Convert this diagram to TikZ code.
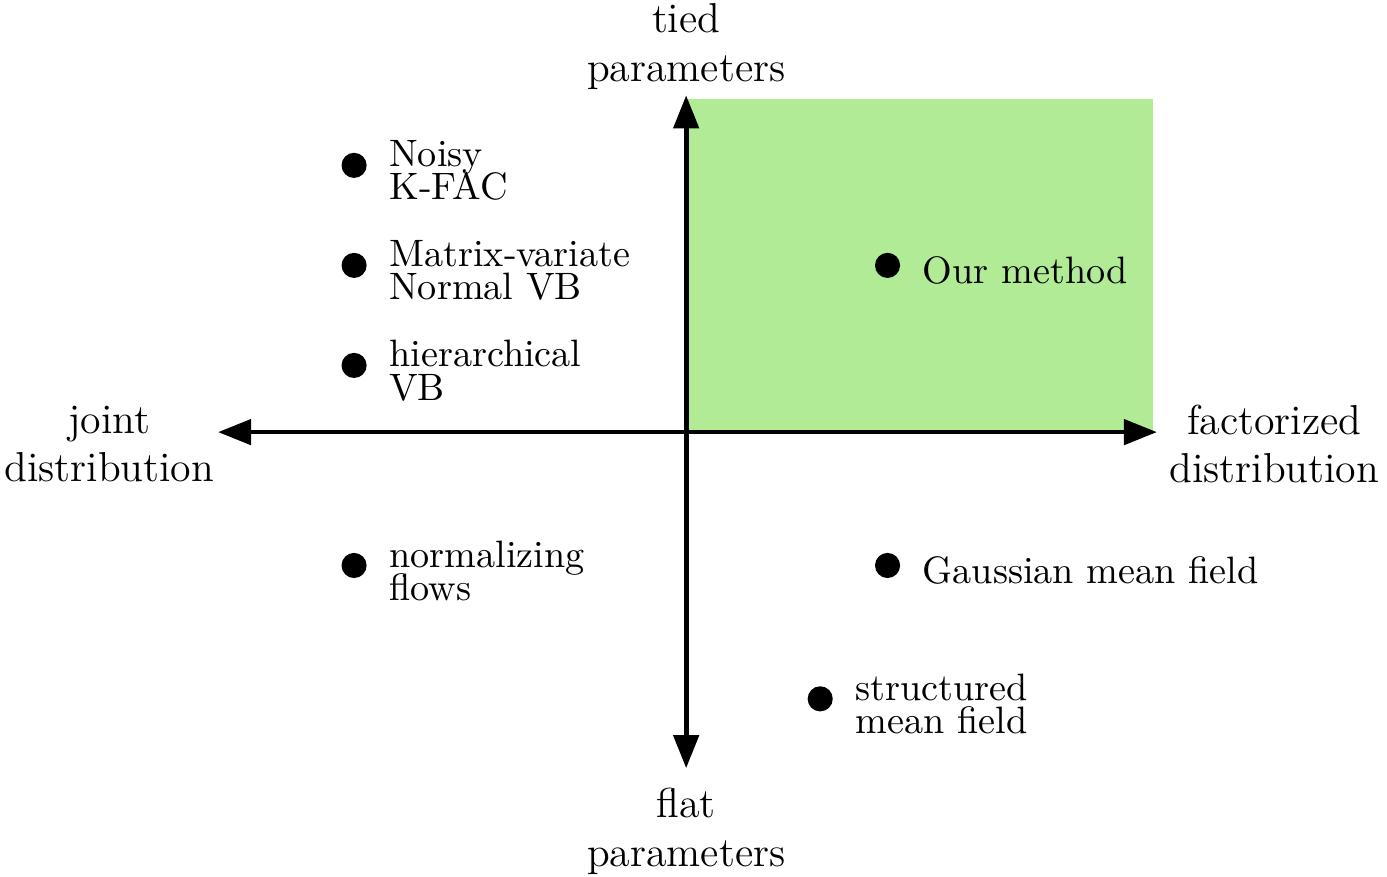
\documentclass[tikz,border=0pt]{standalone}
\usetikzlibrary{positioning,arrows.meta}
\definecolor{figgreen}{RGB}{178,235,150}
\tikzset{
  axis/.style={{Triangle[length=9.5pt,width=7.2pt]}-{Triangle[length=9.5pt,width=7.2pt]},
               line width=1.35pt},
  dot/.style={circle,fill,inner sep=0pt,minimum size=7.2pt},
  lbl/.style={align=left,inner sep=0pt,font=\fontsize{10.95}{13.6}\selectfont},
  axlbl/.style={align=center,inner sep=0pt,font=\large},
}

\begin{document}
\begin{tikzpicture}[x=0.672cm,y=0.672cm]
\useasboundingbox (-10.29,-6.67) rectangle (10.51,6.48);

% target region
\fill[figgreen] (0,0) rectangle (7,5);

\coordinate (xl) at (-7.02,0);
\coordinate (xr) at (7.06,0);
\coordinate (yt) at (0,5.05);
\coordinate (yb) at (0,-5.04);

\draw[axis] (xl) -- (xr);
\draw[axis] (yb) -- (yt);

\node[axlbl,above=1.4pt of yt] (tied) {tied\\parameters};
\node[axlbl,below=5.6pt of yb] (flat) {flat\\parameters};
\node[axlbl,left=0.9pt of xl,yshift=-3.4pt] (joint) {joint\\distribution};
\node[axlbl,right=3.4pt of xr,yshift=-3.4pt] (fact) {factorized\\distribution};

% methods
\node[dot] (noisy) at (-4.98,4) {};
\node[lbl,right=6.1pt of noisy,yshift=-1.5pt] (noisyl) {Noisy\\[-4pt]K-FAC};
\node[dot] (mvn) at (-4.98,2.5) {};
\node[lbl,right=6.1pt of mvn,yshift=-1.5pt] (mvnl) {Matrix-variate\\[-4pt]Normal VB};
\node[dot] (hier) at (-4.98,1) {};
\node[lbl,right=6.1pt of hier,yshift=-1.5pt] (hierl) {hierarchical\\[-4pt]VB};
\node[dot] (nf) at (-4.98,-2) {};
\node[lbl,right=6.1pt of nf,yshift=-1.5pt] (nfl) {normalizing\\[-4pt]flows};
\node[dot] (ours) at (3.02,2.5) {};
\node[lbl,right=6.1pt of ours,yshift=-1.5pt] (oursl) {Our method};
\node[dot] (gmf) at (3.02,-2) {};
\node[lbl,right=6.1pt of gmf,yshift=-1.5pt] (gmfl) {Gaussian mean field};
\node[dot] (smf) at (2.01,-4) {};
\node[lbl,right=6.1pt of smf,yshift=-1.5pt] (smfl) {structured\\[-4pt]mean field};

\end{tikzpicture}
\end{document}
